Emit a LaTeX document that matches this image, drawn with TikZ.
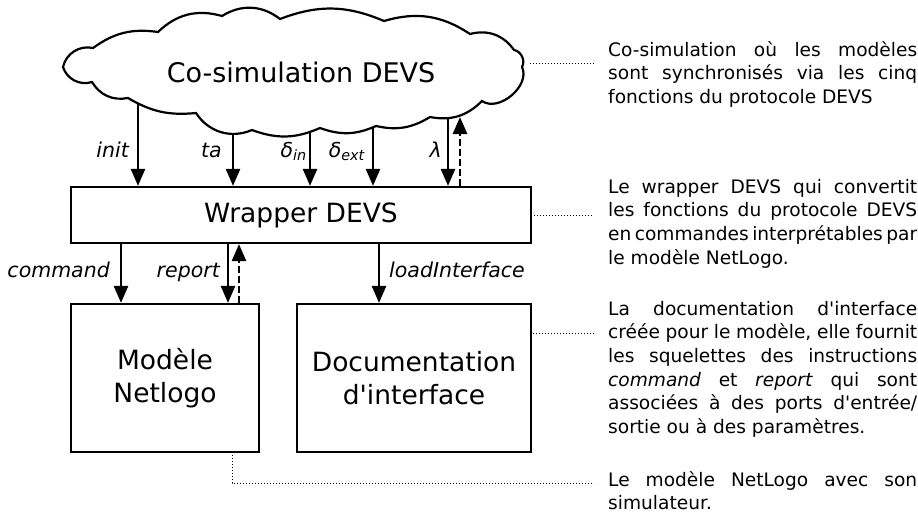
\documentclass[tikz,border=0pt]{standalone}
\usepackage{fontspec}
\setmainfont{DejaVu Sans}
\usetikzlibrary{arrows.meta,calc}
\newcommand\sq{\XeTeXglyph\XeTeXcharglyph"27\relax}
\newcommand\parafont{\fontsize{18.6}{23.6}\selectfont\spaceskip 0.318em plus 3em minus 0.2em\relax}
\begin{document}
\begin{tikzpicture}[x=1pt,y=-1pt,
  box/.style={draw, line width=2.2pt, fill=white, align=center, inner sep=0pt, font=\fontsize{26.5}{33}\selectfont},
  arr/.style={line width=2.6pt, -{Triangle[length=17pt,width=14pt]}},
  darr/.style={arr, dash pattern=on 6.5pt off 3.5pt},
  dots/.style={line width=1pt, dash pattern=on 1pt off 2pt, black},
  lbl/.style={font=\fontsize{20.5}{24}\selectfont\itshape, inner sep=0pt},
  para/.style={anchor=north west, inner sep=0pt, align=left, font=\parafont},
  cloudline/.style={line width=2.2pt, fill=white},
]
\useasboundingbox (0,0) rectangle (918,514);

% boxes
\node[box, minimum width=460, minimum height=56] (wrap) at (301,215) {Wrapper DEVS};
\node[box, minimum width=188, minimum height=148] (modele) at (165,378) {Modèle\\Netlogo};
\node[box, minimum width=234, minimum height=148] (doc) at (414,378) {Documentation\\d\sq interface};

% arrow start coordinates (cloud bottom)
\coordinate (cinit) at (138,95);
\coordinate (cta) at (233,120);
\coordinate (cdin) at (310,120);
\coordinate (cdext) at (373,120);
\coordinate (clam) at (448,110);
\coordinate (cback) at (460,117);
\coordinate (xcmd) at (121,0);
\coordinate (xrep) at (228,0);
\coordinate (xrepb) at (239,0);
\coordinate (xload) at (379,0);

% arrows cloud -> wrapper
\draw[arr] (cinit) -- (wrap.north -| cinit);
\draw[arr] (cta) -- (wrap.north -| cta);
\draw[arr] (cdin) -- (wrap.north -| cdin);
\draw[arr] (cdext) -- (wrap.north -| cdext);
\draw[arr] (clam) -- (wrap.north -| clam);

% cloud
\draw[cloudline] (63,67) to[bend left=45] (93,48) to[bend left=22] (158,32)
  to[bend left=30] (222,16) to[bend left=35] (280,19) to[bend left=22] (384,21)
  to[bend left=25] (470,34) to[bend left=35] (514,50) to[bend left=55] (522,67)
  to[bend left=75] (482,101) to[bend left=28] (430,117) to[bend left=22] (376,126)
  to[bend left=22] (320,128) to[bend left=22] (252,130) to[bend left=40] (196,113)
  to[bend left=18] (128,98) to[bend left=35] (92,82) to[bend left=45] (63,67) -- cycle;
\node[font=\fontsize{27}{33}\selectfont, inner sep=0pt] (cloud) at (301,72) {Co-simulation DEVS};
\coordinate (cright) at (530,63);

\draw[darr] (wrap.north -| cback) -- (cback);

% arrows wrapper -> boxes
\draw[arr] (wrap.south -| xcmd) -- (modele.north -| xcmd);
\draw[arr] (wrap.south -| xrep) -- (modele.north -| xrep);
\draw[darr] (modele.north -| xrepb) -- (wrap.south -| xrepb);
\draw[arr] (wrap.south -| xload) -- (doc.north -| xload);

% labels
\node[lbl, anchor=base east] (linit) at (129,157) {init};
\node[lbl, anchor=base east] (lta) at (222,157) {ta};
\node[lbl, anchor=base east] (ldin) at (307,157) {δ\textsubscript{in}};
\node[lbl, anchor=base east] (ldext) at (365,157) {δ\textsubscript{ext}};
\node[lbl, anchor=base east] (llam) at (442,157) {λ};
\node[lbl, anchor=base east] (lcmd) at (110,277) {command};
\node[lbl, anchor=base east] (lrep) at (220,277) {report};
\node[lbl, anchor=base west] (lload) at (389,277) {loadInterface};

% paragraphs
\node[para] (p1) at (608,41) {\makebox[309pt][s]{Co-simulation où les modèles}\\
  \makebox[309pt][s]{sont synchronisés via les cinq}\\
  fonctions du protocole DEVS};
\node[para] (p2) at (608,179) {\makebox[309pt][s]{Le wrapper DEVS qui convertit}\\
  \makebox[309pt][s]{les fonctions du protocole DEVS}\\
  \makebox[309pt][s]{en commandes interprétables par}\\
  le modèle NetLogo.};
\node[para] (p3) at (608,301) {\makebox[309pt][s]{La documentation d\sq interface}\\
  \makebox[309pt][s]{créée pour le modèle, elle fournit}\\
  \makebox[309pt][s]{les squelettes des instructions}\\
  \makebox[309pt][s]{\textit{command} et \textit{report} qui sont}\\
  \makebox[309pt][s]{associées à des ports d\sq entrée/}\\
  sortie ou à des paramètres.};
\node[para] (p4) at (608,471) {\makebox[309pt][s]{Le modèle NetLogo avec son}\\
  simulateur.};

% dotted leaders
\coordinate (d3s) at (533,333);
\coordinate (m4) at (232,455);
\coordinate (m4c) at (232,483);
\draw[dots, shorten >=13pt] (cright) -- (cright -| p1.west);
\draw[dots, shorten <=2pt, shorten >=14pt] (wrap.east) -- (wrap.east -| p2.west);
\draw[dots, shorten >=14pt] (d3s) -- (d3s -| p3.west);
\draw[dots, shorten >=14pt] (m4) -- (m4c) -- (m4c -| p4.west);
\end{tikzpicture}
\end{document}
